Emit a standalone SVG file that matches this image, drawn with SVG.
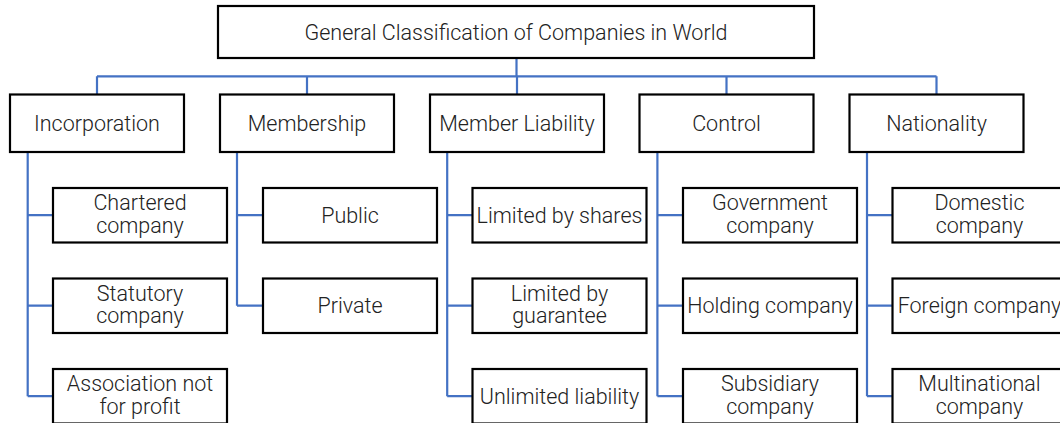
<svg xmlns="http://www.w3.org/2000/svg" width="1060" height="423" viewBox="0 0 1060 423">
<style>
.box{fill:#fff;stroke:#000;stroke-width:2.2}
.t{font-family:"Roboto Light",Roboto,"Liberation Sans",sans-serif;font-weight:300;font-size:21.5px;fill:#222;text-anchor:middle}
.c{fill:none;stroke:#4472C4;stroke-width:2.2}
</style>
<rect width="1060" height="423" fill="#fff"/>
<g id="connectors" class="c">
<path d="M516.5 58V76.3M97 76.3H936.5M97 76.3V94.5M307 76.3V94.5M517 76.3V94.5M726.5 76.3V94.5M936.5 76.3V94.5"/>
<path d="M27.7 152V396.2M27.7 215.2H53M27.7 305.7H53M27.7 396.2H53"/>
<path d="M237 152V305.7M237 215.2H263M237 305.7H263"/>
<path d="M447.2 152V396.2M447.2 215.2H472.5M447.2 305.7H472.5M447.2 396.2H472.5"/>
<path d="M657.4 152V396.2M657.4 215.2H683M657.4 305.7H683M657.4 396.2H683"/>
<path d="M867 152V396.2M867 215.2H892.5M867 305.7H892.5M867 396.2H892.5"/>
</g>
<g id="root"><rect class="box" x="218" y="6" width="596" height="52"/><text class="t" x="516" y="39.5">General Classification of Companies in World</text></g>
<g id="incorporation"><rect class="box" x="10" y="94.5" width="174" height="57.5"/><text class="t" x="97" y="131">Incorporation</text></g>
<g id="membership"><rect class="box" x="220" y="94.5" width="174" height="57.5"/><text class="t" x="307" y="131">Membership</text></g>
<g id="member-liability"><rect class="box" x="430" y="94.5" width="174" height="57.5"/><text class="t" x="517" y="131">Member Liability</text></g>
<g id="control"><rect class="box" x="639.5" y="94.5" width="174" height="57.5"/><text class="t" x="726.5" y="131">Control</text></g>
<g id="nationality"><rect class="box" x="849.5" y="94.5" width="174" height="57.5"/><text class="t" x="936.5" y="131">Nationality</text></g>

<g id="chartered"><rect class="box" x="53" y="188" width="174" height="54.5"/><text class="t" x="140" y="210">Chartered</text><text class="t" x="140" y="232.5">company</text></g>
<g id="statutory"><rect class="box" x="53" y="278.5" width="174" height="54.5"/><text class="t" x="140" y="300.5">Statutory</text><text class="t" x="140" y="323">company</text></g>
<g id="association"><rect class="box" x="53" y="369" width="174" height="54.5"/><text class="t" x="140" y="391">Association not</text><text class="t" x="140" y="413.5">for profit</text></g>

<g id="public"><rect class="box" x="263" y="188" width="174" height="54.5"/><text class="t" x="350" y="222.5">Public</text></g>
<g id="private"><rect class="box" x="263" y="278.5" width="174" height="54.5"/><text class="t" x="350" y="313">Private</text></g>

<g id="limited-shares"><rect class="box" x="472.5" y="188" width="174" height="54.5"/><text class="t" x="559.5" y="222.5">Limited by shares</text></g>
<g id="limited-guarantee"><rect class="box" x="472.5" y="278.5" width="174" height="54.5"/><text class="t" x="559.5" y="300.5">Limited by</text><text class="t" x="559.5" y="323">guarantee</text></g>
<g id="unlimited"><rect class="box" x="472.5" y="369" width="174" height="54.5"/><text class="t" x="559.5" y="403.5">Unlimited liability</text></g>

<g id="government"><rect class="box" x="683" y="188" width="174" height="54.5"/><text class="t" x="770" y="210">Government</text><text class="t" x="770" y="232.5">company</text></g>
<g id="holding"><rect class="box" x="683" y="278.5" width="174" height="54.5"/><text class="t" x="770" y="313">Holding company</text></g>
<g id="subsidiary"><rect class="box" x="683" y="369" width="174" height="54.5"/><text class="t" x="770" y="391">Subsidiary</text><text class="t" x="770" y="413.5">company</text></g>

<g id="domestic"><rect class="box" x="892.5" y="188" width="174" height="54.5"/><text class="t" x="979.5" y="210">Domestic</text><text class="t" x="979.5" y="232.5">company</text></g>
<g id="foreign"><rect class="box" x="892.5" y="278.5" width="174" height="54.5"/><text class="t" x="979.5" y="313">Foreign company</text></g>
<g id="multinational"><rect class="box" x="892.5" y="369" width="174" height="54.5"/><text class="t" x="979.5" y="391">Multinational</text><text class="t" x="979.5" y="413.5">company</text></g>
</svg>
